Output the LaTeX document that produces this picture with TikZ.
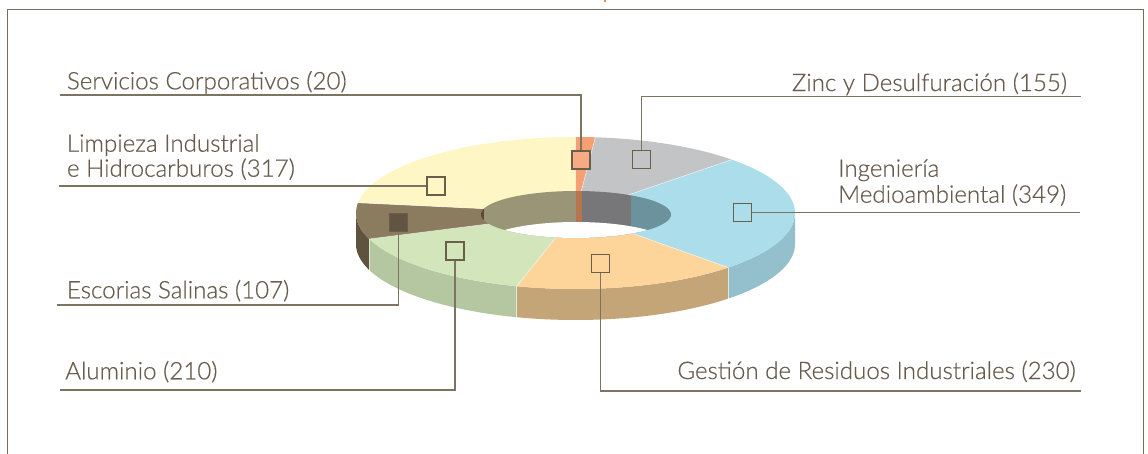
\documentclass[tikz,border=0pt]{standalone}
\usepackage{fontspec}
\setmainfont{Lato}[UprightFont=* Light, RawFeature={embolden=0.5}]
\definecolor{txt}{HTML}{685C4C}
\definecolor{framec}{HTML}{776D5C}
\definecolor{leadc}{HTML}{7D7362}
\definecolor{boxc}{HTML}{6B5F4A}
\definecolor{srvT}{HTML}{F5A072}
\definecolor{srvB}{HTML}{F7AB82}
\definecolor{zincT}{HTML}{C3C4C6}
\definecolor{ingT}{HTML}{ABDDEB}
\definecolor{gesT}{HTML}{FDD59B}
\definecolor{aluT}{HTML}{D2E5BB}
\definecolor{escT}{HTML}{8C7C5F}
\definecolor{escB}{HTML}{615541}
\definecolor{limT}{HTML}{FEF6C5}
\definecolor{escS}{HTML}{5F523E}
\definecolor{aluS}{HTML}{B4C7A1}
\definecolor{gesS}{HTML}{C4A578}
\definecolor{ingS}{HTML}{94BFCC}
\definecolor{escW}{HTML}{5A4B38}
\definecolor{limW}{HTML}{9B9577}
\definecolor{srvW}{HTML}{B87450}
\definecolor{zincW}{HTML}{77777A}
\definecolor{ingW}{HTML}{6B929D}
\definecolor{tick}{HTML}{F08A4B}
\newcommand\topsec[3]{\fill[#3] (575.5,213) -- plot[domain=#1:#2,samples=60] ({575.5+219.5*cos(\x)},{213-76*sin(\x)}) -- cycle;}
\newcommand\sidesec[3]{\fill[#3] plot[domain=#1:#2,samples=60] ({575.5+219.5*cos(\x)},{213-76*sin(\x)}) -- plot[domain=#2:#1,samples=60] ({575.5+219.5*cos(\x)},{244-76*sin(\x)}) -- cycle;}
\newcommand\radsep[1]{\draw[sepline] (575.5,213) -- ({575.5+219.5*cos(#1)},{213-76*sin(#1)});}
\newcommand\vsep[1]{\draw[sepline] ({575.5+219.5*cos(#1)},{213-76*sin(#1)}) -- ++(0,31);}
\begin{document}
\begin{tikzpicture}[x=0.75pt,y=-0.75pt,
  lbl/.style={inner sep=0pt,text=txt,font=\fontsize{18.1}{21}\selectfont},
  mk/.style={draw=boxc,line width=1pt,minimum size=13.5pt,inner sep=0pt},
  lead/.style={draw=leadc,line width=1pt},
  sepline/.style={draw=white,opacity=0.55,line width=0.5pt}]
\useasboundingbox (0,0) rectangle (1148,453);
% frame
\draw[framec,line width=1.2pt] (7.5,470) -- (7.5,9.5) -- (1143.5,9.5) -- (1143.5,470);
\fill[tick] (604,0) rectangle (606,2.5);
% side walls
\sidesec{-180}{-160.01}{escS}
\sidesec{-160.01}{-105.54}{aluS}
\sidesec{-105.54}{-45.89}{gesS}
\sidesec{-45.89}{0}{ingS}
% top sectors
\topsec{90}{84.81}{srvT}
\topsec{84.81}{44.61}{zincT}
\topsec{44.61}{-45.89}{ingT}
\topsec{-45.89}{-105.54}{gesT}
\topsec{-105.54}{-160.01}{aluT}
\topsec{-160.01}{-187.76}{escT}
\topsec{-187.76}{-270}{limT}
% separators
\radsep{84.81}\radsep{44.61}\radsep{-45.89}\radsep{-105.54}\radsep{-160.01}\radsep{-187.76}
\vsep{-160.01}\vsep{-105.54}\vsep{-45.89}
% hole
\begin{scope}
  \clip plot[domain=0:360,samples=90] ({576+95*cos(\x)},{214.5-23.5*sin(\x)}) -- cycle;
  \fill[escW] (470,180) rectangle (483.5,260);
  \fill[limW] (483.5,180) rectangle (575.5,260);
  \fill[srvW] (575.5,180) rectangle (581.7,260);
  \fill[zincW] (581.7,180) rectangle (631,260);
  \fill[ingW] (631,180) rectangle (690,260);
  \fill[white] plot[domain=0:360,samples=90] ({576+95*cos(\x)},{245.5-23.5*sin(\x)}) -- cycle;
\end{scope}
% markers
\node[mk,fill=srvB] (srvbox) at (581,160) {};
\node[mk,fill=zincT] (zincbox) at (641.7,159.5) {};
\node[mk,fill=limT] (limbox) at (436,186) {};
\node[mk,fill=ingT] (ingbox) at (742.3,212.5) {};
\node[mk,fill=escB] (escbox) at (398.3,222.3) {};
\node[mk,fill=aluT] (alubox) at (455,251) {};
\node[mk,fill=gesT] (gesbox) at (600.3,263.7) {};
% leader ends
\coordinate (srvend) at (60,95);
\coordinate (zincend) at (1080.5,96.7);
\coordinate (limend) at (59,186);
\coordinate (ingend) at (1080,212.5);
\coordinate (escend) at (57,305);
\coordinate (aluend) at (60,390);
\coordinate (gesend) at (1080.5,391);
% leaders
\draw[lead] (srvbox.north) |- (srvend);
\draw[lead] (zincbox.north) |- (zincend);
\draw[lead] (limbox.west) -- (limend);
\draw[lead] (ingbox.east) -- (ingend);
\draw[lead] (escbox.south) |- (escend);
\draw[lead] (alubox.south) |- (aluend);
\draw[lead] (gesbox.south) |- (gesend);
% labels
\node[lbl,anchor=base west] (srvtxt) at (66.7,89.3) {Servicios Corporativos (20)};
\node[lbl,anchor=base west] (limtxtA) at (66.7,151.7) {Limpieza Industrial};
\node[lbl,anchor=base west] (limtxtB) at (66.7,176.7) {e Hidrocarburos (317)};
\node[lbl,anchor=base west] (esctxt) at (66.7,298.3) {Escorias Salinas (107)};
\node[lbl,anchor=base west] (alutxt) at (65,379.3) {Aluminio (210)};
\node[lbl,anchor=base east] (zinctxt) at (1067.3,91) {Zinc y Desulfuración (155)};
\node[lbl,anchor=base west] (ingtxtA) at (838,176.7) {Ingeniería};
\node[lbl,anchor=base west] (ingtxtB) at (838,202.7) {Medioambiental (349)};
\node[lbl,anchor=base east] (gestxt) at (1076,379) {Gestión de Residuos Industriales (230)};
\end{tikzpicture}
\end{document}
